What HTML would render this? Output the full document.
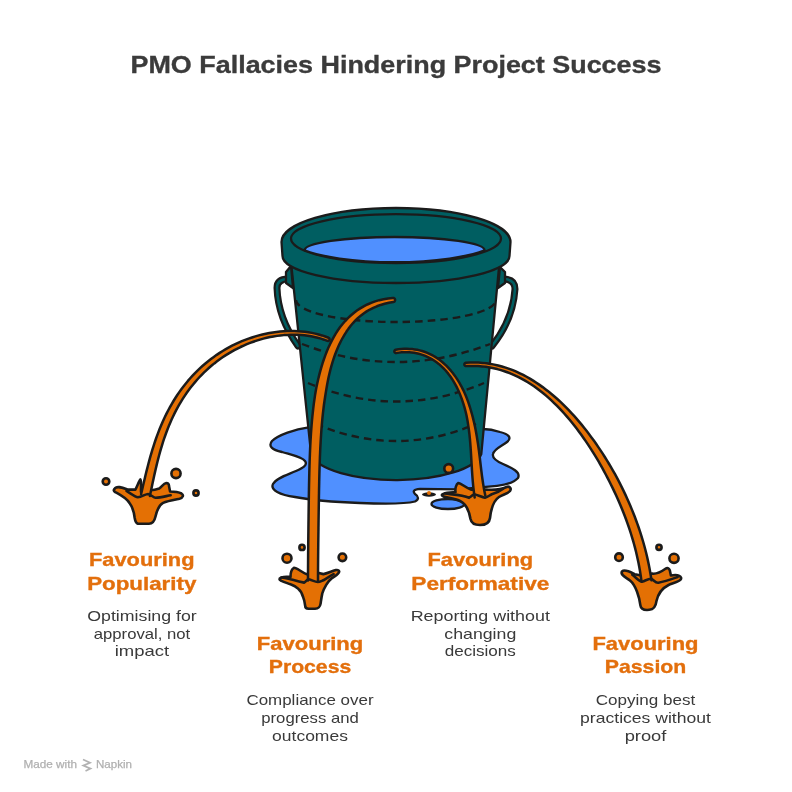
<!DOCTYPE html>
<html><head><meta charset="utf-8"><style>html,body{margin:0;padding:0;background:#fff;width:792px;height:792px;overflow:hidden}svg{display:block;will-change:transform}</style></head>
<body>
<svg width="792" height="792" viewBox="0 0 792 792">
<style>
.k{stroke:#1b1b1b;stroke-width:2.3;stroke-linejoin:round;stroke-linecap:round}
.o{fill:#E47004;stroke:#1b1b1b;stroke-width:2.6;stroke-linejoin:round}
.st{fill:#E47004;stroke:#1b1b1b;stroke-width:2.2;stroke-linejoin:round}
.ln{fill:none;stroke:#1b1b1b;stroke-width:2.6;stroke-linecap:round}
.t{font-family:"Liberation Sans",sans-serif}
</style>
<!-- puddle -->
<path class="k" fill="#5090FF" d="M 350,427 L 308.6,427.4 C 295,429 278,435 272,441 C 268,446 272,450 282,452 C 292,455 302,457 305,461 C 308,465 303,468 296,471 C 287,475 276,478 273,484 C 270,490 280,495 295,497 C 310,500 330,502 360,503 C 385,504 405,504 415,501.5 Q 421,498 415,494 Q 411,489.5 420,488.8 L 458,489.3 L 497,485.8 C 506,484.8 514,482.5 518,478 C 521,472 512,468 503,464 C 496,461 492,458 493,454 C 494,449 502,446 507,442 C 512,438 509,434 500,432 C 494,430 488,429 483,429 Z"/>
<ellipse class="k" fill="#5090FF" cx="448" cy="504" rx="16.5" ry="5"/>
<!-- handles -->
<path d="M 288,279 Q 277,279 277,288 Q 278,318 298,346" fill="none" stroke="#1b1b1b" stroke-width="7" stroke-linecap="round"/>
<path d="M 288,279 Q 277,279 277,288 Q 278,318 298,346" fill="none" stroke="#005E61" stroke-width="2.6" stroke-linecap="round"/>
<path d="M 503,279 Q 515,279 515,289 Q 513,320 492,346" fill="none" stroke="#1b1b1b" stroke-width="7" stroke-linecap="round"/>
<path d="M 503,279 Q 515,279 515,289 Q 513,320 492,346" fill="none" stroke="#005E61" stroke-width="2.6" stroke-linecap="round"/>
<!-- body -->
<path class="k" fill="#005E61" d="M 291,262 L 311.2,455 A 86,30 0 0 0 481.3,454 L 499.5,262 Z"/>
<!-- dashes -->
<g fill="none" stroke="#1b1b1b" stroke-width="2.4" stroke-dasharray="7.5,5">
<path d="M 296,300 A 100,22 0 0 0 496,300"/>
<path d="M 302,344 Q 396,380 490,344"/>
<path d="M 308,383 Q 396,420 484,383"/>
<path d="M 316,424 Q 396,458 476,424"/>
</g>
<!-- brackets -->
<path class="k" fill="#005E61" d="M 291,266 L 286,272 L 286,283 L 293,288 Z"/>
<path class="k" fill="#005E61" d="M 500,267 L 505,272 L 505,283 L 498,288 Z"/>
<!-- rim -->
<path class="k" fill="#005E61" d="M 281.5,242 A 114.5,34 0 0 1 510.5,242 L 509.5,256 A 113.5,27 0 0 1 282.5,256 Z"/>
<ellipse class="k" fill="#005E61" cx="396" cy="238.6" rx="105" ry="24.5"/>
<path class="k" fill="#5090FF" d="M 304.5,250.3 A 90.05,13.3 0 0 1 484.6,250.3 A 105,24.5 0 0 1 304.5,250.3 Z"/>
<!-- small drips -->
<circle class="o" cx="448.7" cy="468.5" r="4.4"/>
<ellipse cx="429" cy="494.5" rx="7" ry="2.2" fill="#1b1b1b"/>
<circle cx="429" cy="493" r="2" fill="#E47004"/>
<!-- streams -->
<g transform="translate(145.5,492)"><path class="o" d="M -31,-3 C -29,-7 -22,-4 -17.7,-2.4 L -10.1,-2.4 C -8.5,-5 -6.5,-11 -5.1,-12.5 C -4,-11 -4.5,-6 -4.5,0 L 5,-1.7 C 9,-2 12,-3 13.8,-3.6 C 16,-5 18.5,-8.5 20.2,-8.7 C 22,-9.5 23.5,-8 23.5,-6 L 24.6,-0.5 C 28,-0.5 33,0 36,1.5 C 38.5,3 37.5,6 34,6.8 C 28,8 22,9 17.6,10.9 C 13.5,13 11.5,18 10,24.5 C 9,29 7,31.7 3.5,31.7 L -7.6,31.7 C -10,31 -10.5,28 -10.8,26 C -11.5,20 -13,15 -16,11 C -19,6 -25,3 -30.3,0.1 C -32,-1 -32,-2 -31,-3 Z"/></g><path fill="#E47004" d="M328.48,337.75 L325.26,336.53 L321.96,335.43 L318.62,334.45 L315.23,333.60 L311.80,332.87 L308.34,332.26 L304.85,331.77 L301.34,331.40 L297.81,331.15 L294.26,331.01 L290.70,330.98 L287.14,331.07 L283.58,331.26 L280.01,331.55 L276.45,331.96 L272.90,332.46 L269.36,333.05 L265.84,333.74 L262.33,334.52 L258.84,335.40 L255.38,336.38 L251.94,337.45 L248.54,338.61 L245.17,339.86 L241.83,341.20 L238.54,342.62 L235.28,344.13 L232.06,345.72 L228.89,347.39 L225.77,349.14 L222.70,350.96 L219.68,352.86 L216.70,354.84 L213.79,356.89 L210.93,359.00 L208.13,361.19 L205.38,363.45 L202.70,365.76 L200.07,368.15 L197.51,370.59 L195.01,373.09 L192.57,375.66 L190.19,378.27 L187.88,380.94 L185.63,383.67 L183.45,386.44 L181.33,389.26 L179.28,392.13 L177.28,395.05 L175.36,398.01 L173.49,401.00 L171.69,404.04 L169.95,407.12 L168.27,410.23 L166.65,413.37 L165.09,416.55 L163.59,419.76 L162.14,422.99 L160.75,426.25 L159.41,429.54 L158.13,432.84 L156.89,436.17 L155.70,439.52 L154.56,442.88 L153.46,446.26 L152.40,449.65 L151.38,453.05 L150.40,456.46 L149.45,459.87 L148.53,463.30 L147.64,466.72 L146.77,470.15 L145.92,473.58 L145.09,477.00 L144.28,480.42 L143.48,483.84 L142.69,487.24 L141.90,490.64 L141.11,494.03 L149.89,495.97 L150.61,492.57 L151.32,489.15 L152.04,485.74 L152.76,482.33 L153.49,478.92 L154.23,475.51 L154.99,472.11 L155.77,468.72 L156.57,465.33 L157.40,461.95 L158.25,458.59 L159.14,455.24 L160.06,451.90 L161.01,448.57 L162.01,445.27 L163.04,441.98 L164.12,438.71 L165.25,435.46 L166.42,432.24 L167.64,429.03 L168.91,425.86 L170.24,422.71 L171.61,419.59 L173.05,416.50 L174.54,413.44 L176.08,410.42 L177.69,407.43 L179.35,404.47 L181.07,401.56 L182.86,398.68 L184.70,395.84 L186.61,393.05 L188.58,390.30 L190.61,387.59 L192.71,384.93 L194.87,382.33 L197.09,379.77 L199.37,377.26 L201.71,374.80 L204.12,372.41 L206.59,370.06 L209.11,367.78 L211.70,365.56 L214.34,363.40 L217.05,361.30 L219.80,359.26 L222.62,357.30 L225.48,355.40 L228.40,353.57 L231.37,351.82 L234.38,350.14 L237.45,348.53 L240.56,347.01 L243.71,345.56 L246.90,344.19 L250.13,342.91 L253.39,341.71 L256.68,340.60 L260.01,339.58 L263.36,338.65 L266.74,337.81 L270.14,337.07 L273.55,336.42 L276.98,335.88 L280.42,335.45 L283.86,335.12 L287.31,334.89 L290.76,334.76 L294.20,334.75 L297.63,334.84 L301.04,335.04 L304.44,335.36 L307.81,335.78 L311.15,336.33 L314.47,336.99 L317.74,337.77 L320.97,338.66 L324.16,339.69 L327.32,340.84 L327.96,340.95 L328.58,340.80 L329.11,340.42 L329.45,339.88 L329.55,339.24 L329.40,338.61 L329.02,338.09 Z"/><path class="ln" style="stroke-width:2.5;stroke-linejoin:round" d="M141.11,494.03 L141.90,490.64 L142.69,487.24 L143.48,483.84 L144.28,480.42 L145.09,477.00 L145.92,473.58 L146.77,470.15 L147.64,466.72 L148.53,463.30 L149.45,459.87 L150.40,456.46 L151.38,453.05 L152.40,449.65 L153.46,446.26 L154.56,442.88 L155.70,439.52 L156.89,436.17 L158.13,432.84 L159.41,429.54 L160.75,426.25 L162.14,422.99 L163.59,419.76 L165.09,416.55 L166.65,413.37 L168.27,410.23 L169.95,407.12 L171.69,404.04 L173.49,401.00 L175.36,398.01 L177.28,395.05 L179.28,392.13 L181.33,389.26 L183.45,386.44 L185.63,383.67 L187.88,380.94 L190.19,378.27 L192.57,375.66 L195.01,373.09 L197.51,370.59 L200.07,368.15 L202.70,365.76 L205.38,363.45 L208.13,361.19 L210.93,359.00 L213.79,356.89 L216.70,354.84 L219.68,352.86 L222.70,350.96 L225.77,349.14 L228.89,347.39 L232.06,345.72 L235.28,344.13 L238.54,342.62 L241.83,341.20 L245.17,339.86 L248.54,338.61 L251.94,337.45 L255.38,336.38 L258.84,335.40 L262.33,334.52 L265.84,333.74 L269.36,333.05 L272.90,332.46 L276.45,331.96 L280.01,331.55 L283.58,331.26 L287.14,331.07 L290.70,330.98 L294.26,331.01 L297.81,331.15 L301.34,331.40 L304.85,331.77 L308.34,332.26 L311.80,332.87 L315.23,333.60 L318.62,334.45 L321.96,335.43 L325.26,336.53 L328.48,337.75 L329.02,338.09 L329.40,338.61 L329.55,339.24 L329.45,339.88 L329.11,340.42 L328.58,340.80 L327.96,340.95 L327.32,340.84 L324.16,339.69 L320.97,338.66 L317.74,337.77 L314.47,336.99 L311.15,336.33 L307.81,335.78 L304.44,335.36 L301.04,335.04 L297.63,334.84 L294.20,334.75 L290.76,334.76 L287.31,334.89 L283.86,335.12 L280.42,335.45 L276.98,335.88 L273.55,336.42 L270.14,337.07 L266.74,337.81 L263.36,338.65 L260.01,339.58 L256.68,340.60 L253.39,341.71 L250.13,342.91 L246.90,344.19 L243.71,345.56 L240.56,347.01 L237.45,348.53 L234.38,350.14 L231.37,351.82 L228.40,353.57 L225.48,355.40 L222.62,357.30 L219.80,359.26 L217.05,361.30 L214.34,363.40 L211.70,365.56 L209.11,367.78 L206.59,370.06 L204.12,372.41 L201.71,374.80 L199.37,377.26 L197.09,379.77 L194.87,382.33 L192.71,384.93 L190.61,387.59 L188.58,390.30 L186.61,393.05 L184.70,395.84 L182.86,398.68 L181.07,401.56 L179.35,404.47 L177.69,407.43 L176.08,410.42 L174.54,413.44 L173.05,416.50 L171.61,419.59 L170.24,422.71 L168.91,425.86 L167.64,429.03 L166.42,432.24 L165.25,435.46 L164.12,438.71 L163.04,441.98 L162.01,445.27 L161.01,448.57 L160.06,451.90 L159.14,455.24 L158.25,458.59 L157.40,461.95 L156.57,465.33 L155.77,468.72 L154.99,472.11 L154.23,475.51 L153.49,478.92 L152.76,482.33 L152.04,485.74 L151.32,489.15 L150.61,492.57 L149.89,495.97"/><g transform="translate(145.5,492)"><path class="ln" d="M -19,-1.1 C -14,2 -10,5 -7.6,5.2 C -4,5 0,2 2.5,2 C 5,2.5 8,5.5 10.1,5.8 C 15,5.5 21,4 25.2,3.3"/></g>
<g transform="translate(313,578)"><path class="o" d="M -33.3,0.6 C -32,-2 -27,-1.5 -22.5,-1.1 C -22.5,-4 -21.5,-9 -19.1,-10.2 C -16.5,-10.5 -11,-5.5 -6.6,-3.9 L 5.9,-5 C 8,-4.5 9,-4 10.4,-3.9 C 14,-4.5 18,-6.5 22.9,-7.9 C 25,-8.5 27,-7 25.75,-5.3 C 24.5,-3 21,-1 18.4,0.6 C 15,3 11,10 9.3,15.4 C 8.5,19 8,23 7.6,25.6 C 7,29 6,30.5 2,30.75 L -4.4,30.75 C -7,30.5 -7.8,29 -7.8,27.9 C -8.5,23 -9,21 -10,18.8 C -11,15 -12,13 -14.6,10.9 C -17,8.5 -19,7.5 -22.5,6.3 C -26,5 -29,4 -31.6,2.9 C -33,2 -34,1.5 -33.3,0.6 Z"/></g><path fill="#E47004" d="M392.72,297.92 L388.09,298.42 L383.58,299.18 L379.26,300.17 L375.11,301.39 L371.14,302.83 L367.34,304.48 L363.71,306.33 L360.24,308.36 L356.92,310.57 L353.76,312.95 L350.76,315.50 L347.90,318.19 L345.18,321.03 L342.61,323.99 L340.17,327.08 L337.86,330.29 L335.72,333.63 L333.71,337.06 L331.81,340.58 L330.02,344.18 L328.34,347.85 L326.77,351.59 L325.29,355.40 L323.90,359.25 L322.60,363.16 L321.39,367.11 L320.25,371.10 L319.19,375.13 L318.20,379.19 L317.28,383.27 L316.42,387.37 L315.64,391.50 L314.97,395.64 L314.36,399.80 L313.79,403.96 L313.28,408.13 L312.81,412.29 L312.38,416.45 L311.98,420.61 L311.63,424.76 L311.30,428.90 L311.01,433.03 L310.75,437.14 L310.51,441.25 L310.29,445.33 L310.10,449.41 L309.92,453.46 L309.77,457.50 L309.63,461.52 L309.50,465.52 L309.39,469.51 L309.29,473.47 L309.19,477.42 L309.11,481.35 L309.03,485.27 L308.96,489.17 L308.89,493.06 L308.83,496.94 L308.78,500.81 L308.72,504.67 L308.67,508.52 L308.62,512.37 L308.57,516.22 L308.52,520.06 L308.47,523.92 L308.42,527.78 L308.38,531.65 L308.33,535.54 L308.29,539.45 L308.24,543.38 L308.20,547.33 L308.16,551.32 L308.12,555.34 L308.09,559.40 L308.06,563.51 L308.03,567.67 L308.02,571.88 L308.00,576.16 L308.00,580.49 L318.00,580.51 L318.01,576.18 L318.02,571.92 L318.05,567.72 L318.08,563.58 L318.11,559.48 L318.15,555.43 L318.19,551.42 L318.24,547.44 L318.28,543.49 L318.33,539.57 L318.38,535.66 L318.43,531.78 L318.48,527.91 L318.53,524.05 L318.58,520.20 L318.63,516.35 L318.69,512.50 L318.74,508.66 L318.80,504.81 L318.86,500.96 L318.92,497.10 L318.99,493.23 L319.05,489.35 L319.13,485.47 L319.21,481.57 L319.30,477.65 L319.39,473.73 L319.50,469.79 L319.62,465.83 L319.75,461.86 L319.89,457.88 L320.05,453.88 L320.23,449.87 L320.42,445.85 L320.64,441.81 L320.88,437.77 L321.14,433.72 L321.43,429.66 L321.76,425.59 L322.11,421.53 L322.50,417.46 L322.92,413.39 L323.39,409.33 L323.89,405.28 L324.45,401.23 L325.05,397.20 L325.69,393.19 L326.34,389.19 L327.03,385.21 L327.78,381.26 L328.59,377.34 L329.47,373.46 L330.42,369.62 L331.44,365.82 L332.54,362.08 L333.73,358.39 L334.99,354.77 L336.35,351.21 L337.80,347.72 L339.34,344.32 L340.99,341.00 L342.73,337.77 L344.59,334.63 L346.51,331.58 L348.56,328.62 L350.72,325.78 L353.02,323.05 L355.45,320.45 L358.03,317.97 L360.75,315.64 L363.63,313.44 L366.67,311.40 L369.89,309.53 L373.29,307.81 L376.87,306.28 L380.64,304.93 L384.63,303.77 L388.82,302.82 L393.29,302.08 L394.06,301.82 L394.68,301.27 L395.04,300.54 L395.08,299.72 L394.82,298.94 L394.27,298.33 L393.54,297.97 Z"/><path class="ln" style="stroke-width:2.5;stroke-linejoin:round" d="M308.00,580.49 L308.00,576.16 L308.02,571.88 L308.03,567.67 L308.06,563.51 L308.09,559.40 L308.12,555.34 L308.16,551.32 L308.20,547.33 L308.24,543.38 L308.29,539.45 L308.33,535.54 L308.38,531.65 L308.42,527.78 L308.47,523.92 L308.52,520.06 L308.57,516.22 L308.62,512.37 L308.67,508.52 L308.72,504.67 L308.78,500.81 L308.83,496.94 L308.89,493.06 L308.96,489.17 L309.03,485.27 L309.11,481.35 L309.19,477.42 L309.29,473.47 L309.39,469.51 L309.50,465.52 L309.63,461.52 L309.77,457.50 L309.92,453.46 L310.10,449.41 L310.29,445.33 L310.51,441.25 L310.75,437.14 L311.01,433.03 L311.30,428.90 L311.63,424.76 L311.98,420.61 L312.38,416.45 L312.81,412.29 L313.28,408.13 L313.79,403.96 L314.36,399.80 L314.97,395.64 L315.64,391.50 L316.42,387.37 L317.28,383.27 L318.20,379.19 L319.19,375.13 L320.25,371.10 L321.39,367.11 L322.60,363.16 L323.90,359.25 L325.29,355.40 L326.77,351.59 L328.34,347.85 L330.02,344.18 L331.81,340.58 L333.71,337.06 L335.72,333.63 L337.86,330.29 L340.17,327.08 L342.61,323.99 L345.18,321.03 L347.90,318.19 L350.76,315.50 L353.76,312.95 L356.92,310.57 L360.24,308.36 L363.71,306.33 L367.34,304.48 L371.14,302.83 L375.11,301.39 L379.26,300.17 L383.58,299.18 L388.09,298.42 L392.72,297.92 L393.54,297.97 L394.27,298.33 L394.82,298.94 L395.08,299.72 L395.04,300.54 L394.68,301.27 L394.06,301.82 L393.29,302.08 L388.82,302.82 L384.63,303.77 L380.64,304.93 L376.87,306.28 L373.29,307.81 L369.89,309.53 L366.67,311.40 L363.63,313.44 L360.75,315.64 L358.03,317.97 L355.45,320.45 L353.02,323.05 L350.72,325.78 L348.56,328.62 L346.51,331.58 L344.59,334.63 L342.73,337.77 L340.99,341.00 L339.34,344.32 L337.80,347.72 L336.35,351.21 L334.99,354.77 L333.73,358.39 L332.54,362.08 L331.44,365.82 L330.42,369.62 L329.47,373.46 L328.59,377.34 L327.78,381.26 L327.03,385.21 L326.34,389.19 L325.69,393.19 L325.05,397.20 L324.45,401.23 L323.89,405.28 L323.39,409.33 L322.92,413.39 L322.50,417.46 L322.11,421.53 L321.76,425.59 L321.43,429.66 L321.14,433.72 L320.88,437.77 L320.64,441.81 L320.42,445.85 L320.23,449.87 L320.05,453.88 L319.89,457.88 L319.75,461.86 L319.62,465.83 L319.50,469.79 L319.39,473.73 L319.30,477.65 L319.21,481.57 L319.13,485.47 L319.05,489.35 L318.99,493.23 L318.92,497.10 L318.86,500.96 L318.80,504.81 L318.74,508.66 L318.69,512.50 L318.63,516.35 L318.58,520.20 L318.53,524.05 L318.48,527.91 L318.43,531.78 L318.38,535.66 L318.33,539.57 L318.28,543.49 L318.24,547.44 L318.19,551.42 L318.15,555.43 L318.11,559.48 L318.08,563.58 L318.05,567.72 L318.02,571.92 L318.01,576.18 L318.00,580.51"/><g transform="translate(313,578)"><path class="ln" d="M -31.6,-0.5 C -27,0 -24,1 -20.3,1.8 C -16,3 -12,4 -8.9,4.6 C -7,3.5 -6,1.5 -4.4,1.2 C -1,2 2,4 4.7,4 C 7,4 8.5,3 10.4,2.3 C 14,0 17,-2 20.6,-3.9"/></g>
<g transform="translate(478,495)"><path class="o" d="M -35.6,-0.5 C -33,-3 -28,-2 -22.5,-3 C -23,-6 -22,-11 -19.7,-12 C -17,-12 -12,-7 -6.6,-5.2 L 8,-5.5 C 14,-5 22,-5 28.6,-8 C 31,-9 34,-7 32,-4 C 30,-1.5 25,-0.5 21,2 C 15,6 13,14 12,23 C 11.5,27 9,30 2,30 C -3,30 -6.5,29 -7.5,24 C -9,15 -12,9 -18,6 C -24,3 -31,3 -34.5,1.5 C -36,1 -36.5,0 -35.6,-0.5 Z"/></g><path fill="#E47004" d="M396.24,353.03 L399.01,352.63 L401.68,352.36 L404.29,352.22 L406.85,352.20 L409.35,352.30 L411.80,352.51 L414.19,352.83 L416.53,353.25 L418.81,353.78 L421.04,354.40 L423.21,355.12 L425.33,355.93 L427.40,356.83 L429.41,357.81 L431.37,358.88 L433.27,360.02 L435.12,361.24 L436.92,362.53 L438.67,363.90 L440.37,365.32 L442.01,366.82 L443.61,368.37 L445.15,369.99 L446.63,371.67 L448.05,373.41 L449.42,375.21 L450.74,377.05 L452.00,378.93 L453.22,380.86 L454.39,382.83 L455.51,384.84 L456.59,386.88 L457.61,388.96 L458.59,391.07 L459.53,393.21 L460.42,395.37 L461.27,397.57 L462.08,399.78 L462.84,402.02 L463.57,404.28 L464.26,406.56 L464.90,408.85 L465.51,411.17 L466.07,413.50 L466.57,415.84 L467.04,418.20 L467.47,420.57 L467.88,422.94 L468.25,425.33 L468.60,427.71 L468.92,430.11 L469.21,432.50 L469.49,434.90 L469.74,437.31 L469.97,439.71 L470.18,442.12 L470.37,444.52 L470.55,446.93 L470.72,449.34 L470.88,451.75 L471.02,454.15 L471.16,456.56 L471.30,458.96 L471.44,461.37 L471.58,463.77 L471.72,466.17 L471.86,468.57 L472.01,470.98 L472.17,473.38 L472.34,475.78 L472.52,478.18 L472.71,480.59 L472.92,482.99 L473.15,485.40 L473.41,487.81 L473.68,490.23 L473.99,492.64 L474.33,495.07 L474.69,497.46 L485.32,495.54 L484.83,493.24 L484.38,490.97 L483.96,488.69 L483.56,486.40 L483.18,484.11 L482.83,481.80 L482.49,479.48 L482.16,477.16 L481.85,474.82 L481.55,472.47 L481.26,470.12 L480.97,467.75 L480.69,465.38 L480.41,463.00 L480.14,460.60 L479.85,458.20 L479.56,455.80 L479.25,453.38 L478.94,450.96 L478.62,448.54 L478.29,446.11 L477.94,443.68 L477.57,441.24 L477.19,438.80 L476.79,436.36 L476.37,433.92 L475.93,431.48 L475.46,429.04 L474.96,426.60 L474.44,424.17 L473.89,421.75 L473.31,419.33 L472.70,416.92 L472.05,414.52 L471.37,412.13 L470.68,409.75 L469.97,407.38 L469.21,405.02 L468.42,402.68 L467.59,400.36 L466.71,398.06 L465.80,395.78 L464.84,393.52 L463.83,391.29 L462.78,389.09 L461.67,386.92 L460.53,384.79 L459.33,382.68 L458.08,380.62 L456.79,378.59 L455.44,376.61 L454.04,374.67 L452.59,372.78 L451.08,370.94 L449.52,369.15 L447.92,367.41 L446.27,365.71 L444.57,364.08 L442.81,362.51 L441.00,361.00 L439.12,359.57 L437.19,358.21 L435.20,356.92 L433.15,355.72 L431.05,354.60 L428.89,353.57 L426.67,352.62 L424.39,351.78 L422.05,351.03 L419.66,350.38 L417.22,349.84 L414.72,349.40 L412.16,349.09 L409.55,348.89 L406.89,348.81 L404.17,348.85 L401.40,349.02 L398.59,349.33 L395.75,349.77 L395.15,349.99 L394.67,350.42 L394.40,351.00 L394.37,351.65 L394.58,352.25 L395.02,352.73 L395.60,353.00 Z"/><path class="ln" style="stroke-width:2.5;stroke-linejoin:round" d="M474.69,497.46 L474.33,495.07 L473.99,492.64 L473.68,490.23 L473.41,487.81 L473.15,485.40 L472.92,482.99 L472.71,480.59 L472.52,478.18 L472.34,475.78 L472.17,473.38 L472.01,470.98 L471.86,468.57 L471.72,466.17 L471.58,463.77 L471.44,461.37 L471.30,458.96 L471.16,456.56 L471.02,454.15 L470.88,451.75 L470.72,449.34 L470.55,446.93 L470.37,444.52 L470.18,442.12 L469.97,439.71 L469.74,437.31 L469.49,434.90 L469.21,432.50 L468.92,430.11 L468.60,427.71 L468.25,425.33 L467.88,422.94 L467.47,420.57 L467.04,418.20 L466.57,415.84 L466.07,413.50 L465.51,411.17 L464.90,408.85 L464.26,406.56 L463.57,404.28 L462.84,402.02 L462.08,399.78 L461.27,397.57 L460.42,395.37 L459.53,393.21 L458.59,391.07 L457.61,388.96 L456.59,386.88 L455.51,384.84 L454.39,382.83 L453.22,380.86 L452.00,378.93 L450.74,377.05 L449.42,375.21 L448.05,373.41 L446.63,371.67 L445.15,369.99 L443.61,368.37 L442.01,366.82 L440.37,365.32 L438.67,363.90 L436.92,362.53 L435.12,361.24 L433.27,360.02 L431.37,358.88 L429.41,357.81 L427.40,356.83 L425.33,355.93 L423.21,355.12 L421.04,354.40 L418.81,353.78 L416.53,353.25 L414.19,352.83 L411.80,352.51 L409.35,352.30 L406.85,352.20 L404.29,352.22 L401.68,352.36 L399.01,352.63 L396.24,353.03 L395.60,353.00 L395.02,352.73 L394.58,352.25 L394.37,351.65 L394.40,351.00 L394.67,350.42 L395.15,349.99 L395.75,349.77 L398.59,349.33 L401.40,349.02 L404.17,348.85 L406.89,348.81 L409.55,348.89 L412.16,349.09 L414.72,349.40 L417.22,349.84 L419.66,350.38 L422.05,351.03 L424.39,351.78 L426.67,352.62 L428.89,353.57 L431.05,354.60 L433.15,355.72 L435.20,356.92 L437.19,358.21 L439.12,359.57 L441.00,361.00 L442.81,362.51 L444.57,364.08 L446.27,365.71 L447.92,367.41 L449.52,369.15 L451.08,370.94 L452.59,372.78 L454.04,374.67 L455.44,376.61 L456.79,378.59 L458.08,380.62 L459.33,382.68 L460.53,384.79 L461.67,386.92 L462.78,389.09 L463.83,391.29 L464.84,393.52 L465.80,395.78 L466.71,398.06 L467.59,400.36 L468.42,402.68 L469.21,405.02 L469.97,407.38 L470.68,409.75 L471.37,412.13 L472.05,414.52 L472.70,416.92 L473.31,419.33 L473.89,421.75 L474.44,424.17 L474.96,426.60 L475.46,429.04 L475.93,431.48 L476.37,433.92 L476.79,436.36 L477.19,438.80 L477.57,441.24 L477.94,443.68 L478.29,446.11 L478.62,448.54 L478.94,450.96 L479.25,453.38 L479.56,455.80 L479.85,458.20 L480.14,460.60 L480.41,463.00 L480.69,465.38 L480.97,467.75 L481.26,470.12 L481.55,472.47 L481.85,474.82 L482.16,477.16 L482.49,479.48 L482.83,481.80 L483.18,484.11 L483.56,486.40 L483.96,488.69 L484.38,490.97 L484.83,493.24 L485.32,495.54"/><g transform="translate(478,495)"><path class="ln" d="M -33,-1.5 C -25,-0.5 -15,0 -8.9,2.7 C -6,1 -5,-0.5 -3.8,-0.7 C 0,0 4,2.5 7,2.7 C 10,2 12,0 13.8,-0.7 C 18,-2 22,-4 25.2,-6.4"/></g>
<g transform="translate(645.9,579.3)"><path class="o" d="M -23.9,-7.9 C -21,-10.5 -15,-7 -11.3,-5.1 L -5.7,-4 L 6.3,-5.7 C 12,-5 16,-8 19.5,-10.5 Q 22.5,-12.5 23.9,-9 L 25,-3.8 C 29,-4.5 34,-4.5 35.2,-1.5 C 36,1.5 28,3.5 22.7,5.7 C 16,9 12,15 10.5,22 C 10,26 9,30 3.4,30.5 C -1,31 -5,30 -5.5,26 C -6.5,18 -10,6 -15.9,1.2 C -19,-1.5 -26,-4 -23.9,-7.9 Z"/></g><path fill="#E47004" d="M466.07,366.05 L470.23,365.89 L474.29,365.90 L478.28,366.06 L482.20,366.38 L486.05,366.84 L489.84,367.45 L493.58,368.20 L497.25,369.08 L500.86,370.08 L504.41,371.21 L507.91,372.46 L511.35,373.83 L514.74,375.31 L518.07,376.89 L521.35,378.57 L524.59,380.36 L527.77,382.24 L530.90,384.21 L533.99,386.27 L537.02,388.42 L539.99,390.68 L542.91,393.01 L545.78,395.42 L548.61,397.89 L551.39,400.43 L554.13,403.03 L556.83,405.70 L559.48,408.42 L562.08,411.19 L564.65,414.02 L567.17,416.90 L569.65,419.82 L572.09,422.78 L574.49,425.79 L576.85,428.84 L579.17,431.92 L581.45,435.04 L583.69,438.19 L585.89,441.37 L588.06,444.58 L590.18,447.81 L592.26,451.07 L594.31,454.36 L596.31,457.66 L598.28,460.99 L600.21,464.34 L602.10,467.70 L603.95,471.08 L605.77,474.47 L607.54,477.88 L609.27,481.31 L611.00,484.73 L612.69,488.16 L614.34,491.60 L615.95,495.06 L617.52,498.52 L619.06,502.00 L620.55,505.49 L622.00,508.98 L623.40,512.49 L624.77,516.01 L626.10,519.54 L627.38,523.07 L628.61,526.62 L629.81,530.18 L630.96,533.75 L632.06,537.34 L633.12,540.93 L634.13,544.54 L635.10,548.17 L636.01,551.81 L636.88,555.47 L637.70,559.14 L638.47,562.84 L639.19,566.56 L639.86,570.29 L640.48,574.06 L641.04,577.84 L641.55,581.69 L651.45,580.30 L650.88,576.39 L650.24,572.46 L649.54,568.57 L648.80,564.70 L648.00,560.86 L647.14,557.04 L646.24,553.24 L645.29,549.47 L644.29,545.72 L643.24,541.99 L642.14,538.27 L641.00,534.58 L639.80,530.90 L638.57,527.23 L637.29,523.59 L635.96,519.95 L634.59,516.33 L633.18,512.73 L631.73,509.13 L630.23,505.55 L628.69,501.99 L627.12,498.43 L625.49,494.89 L623.83,491.36 L622.13,487.85 L620.39,484.35 L618.61,480.86 L616.78,477.39 L614.89,473.95 L612.95,470.52 L610.98,467.12 L608.97,463.73 L606.92,460.36 L604.83,457.01 L602.71,453.68 L600.54,450.37 L598.34,447.09 L596.09,443.83 L593.81,440.60 L591.49,437.40 L589.13,434.23 L586.73,431.09 L584.29,427.99 L581.81,424.92 L579.29,421.88 L576.73,418.89 L574.13,415.94 L571.48,413.04 L568.80,410.19 L566.07,407.38 L563.30,404.63 L560.49,401.93 L557.63,399.30 L554.73,396.72 L551.78,394.21 L548.79,391.77 L545.76,389.40 L542.67,387.11 L539.54,384.90 L536.38,382.74 L533.17,380.66 L529.91,378.67 L526.61,376.77 L523.24,374.97 L519.83,373.28 L516.36,371.68 L512.83,370.20 L509.25,368.83 L505.61,367.59 L501.91,366.46 L498.15,365.47 L494.34,364.61 L490.46,363.89 L486.52,363.31 L482.53,362.88 L478.46,362.60 L474.34,362.49 L470.15,362.54 L465.92,362.75 L465.30,362.91 L464.78,363.29 L464.45,363.84 L464.35,364.47 L464.50,365.10 L464.88,365.62 L465.44,365.95 Z"/><path class="ln" style="stroke-width:2.5;stroke-linejoin:round" d="M641.55,581.69 L641.04,577.84 L640.48,574.06 L639.86,570.29 L639.19,566.56 L638.47,562.84 L637.70,559.14 L636.88,555.47 L636.01,551.81 L635.10,548.17 L634.13,544.54 L633.12,540.93 L632.06,537.34 L630.96,533.75 L629.81,530.18 L628.61,526.62 L627.38,523.07 L626.10,519.54 L624.77,516.01 L623.40,512.49 L622.00,508.98 L620.55,505.49 L619.06,502.00 L617.52,498.52 L615.95,495.06 L614.34,491.60 L612.69,488.16 L611.00,484.73 L609.27,481.31 L607.54,477.88 L605.77,474.47 L603.95,471.08 L602.10,467.70 L600.21,464.34 L598.28,460.99 L596.31,457.66 L594.31,454.36 L592.26,451.07 L590.18,447.81 L588.06,444.58 L585.89,441.37 L583.69,438.19 L581.45,435.04 L579.17,431.92 L576.85,428.84 L574.49,425.79 L572.09,422.78 L569.65,419.82 L567.17,416.90 L564.65,414.02 L562.08,411.19 L559.48,408.42 L556.83,405.70 L554.13,403.03 L551.39,400.43 L548.61,397.89 L545.78,395.42 L542.91,393.01 L539.99,390.68 L537.02,388.42 L533.99,386.27 L530.90,384.21 L527.77,382.24 L524.59,380.36 L521.35,378.57 L518.07,376.89 L514.74,375.31 L511.35,373.83 L507.91,372.46 L504.41,371.21 L500.86,370.08 L497.25,369.08 L493.58,368.20 L489.84,367.45 L486.05,366.84 L482.20,366.38 L478.28,366.06 L474.29,365.90 L470.23,365.89 L466.07,366.05 L465.44,365.95 L464.88,365.62 L464.50,365.10 L464.35,364.47 L464.45,363.84 L464.78,363.29 L465.30,362.91 L465.92,362.75 L470.15,362.54 L474.34,362.49 L478.46,362.60 L482.53,362.88 L486.52,363.31 L490.46,363.89 L494.34,364.61 L498.15,365.47 L501.91,366.46 L505.61,367.59 L509.25,368.83 L512.83,370.20 L516.36,371.68 L519.83,373.28 L523.24,374.97 L526.61,376.77 L529.91,378.67 L533.17,380.66 L536.38,382.74 L539.54,384.90 L542.67,387.11 L545.76,389.40 L548.79,391.77 L551.78,394.21 L554.73,396.72 L557.63,399.30 L560.49,401.93 L563.30,404.63 L566.07,407.38 L568.80,410.19 L571.48,413.04 L574.13,415.94 L576.73,418.89 L579.29,421.88 L581.81,424.92 L584.29,427.99 L586.73,431.09 L589.13,434.23 L591.49,437.40 L593.81,440.60 L596.09,443.83 L598.34,447.09 L600.54,450.37 L602.71,453.68 L604.83,457.01 L606.92,460.36 L608.97,463.73 L610.98,467.12 L612.95,470.52 L614.89,473.95 L616.78,477.39 L618.61,480.86 L620.39,484.35 L622.13,487.85 L623.83,491.36 L625.49,494.89 L627.12,498.43 L628.69,501.99 L630.23,505.55 L631.73,509.13 L633.18,512.73 L634.59,516.33 L635.96,519.95 L637.29,523.59 L638.57,527.23 L639.80,530.90 L641.00,534.58 L642.14,538.27 L643.24,541.99 L644.29,545.72 L645.29,549.47 L646.24,553.24 L647.14,557.04 L648.00,560.86 L648.80,564.70 L649.54,568.57 L650.24,572.46 L650.88,576.39 L651.45,580.30"/><g transform="translate(645.9,579.3)"><path class="ln" d="M -13.6,-4.5 C -9,-1 -6,3 -3.4,2.3 C 0,1 3,-1 5.7,-0.5 C 8,1 10,4 12.5,3.4 C 20,2 28,-1 31.8,-2.3"/></g>
<!-- droplets -->
<circle class="o" cx="106" cy="481.5" r="3.3"/><circle class="o" cx="176" cy="473.5" r="4.6"/><circle class="o" cx="196" cy="493" r="2.6"/>
<circle class="o" cx="287" cy="558.2" r="4.5"/><circle class="o" cx="302" cy="547.4" r="2.6"/><circle class="o" cx="342.4" cy="557.3" r="3.8"/>
<circle class="o" cx="619" cy="557.2" r="3.8"/><circle class="o" cx="659" cy="547.3" r="2.6"/><circle class="o" cx="674" cy="558.3" r="4.6"/>
<!-- text -->
<text class="t" x="396" y="72.5" text-anchor="middle" font-weight="bold" font-size="24.5" fill="#3b3b3b" stroke="#3b3b3b" stroke-width="0.35" textLength="531" lengthAdjust="spacingAndGlyphs">PMO Fallacies Hindering Project Success</text>
<text class="t" x="141.75" y="566" text-anchor="middle" font-weight="bold" font-size="19" fill="#E36F0C" stroke="#E36F0C" stroke-width="0.35" textLength="105.5" lengthAdjust="spacingAndGlyphs">Favouring</text><text class="t" x="141.75" y="589.5" text-anchor="middle" font-weight="bold" font-size="19" fill="#E36F0C" stroke="#E36F0C" stroke-width="0.35" textLength="109.2" lengthAdjust="spacingAndGlyphs">Popularity</text><text class="t" x="142" y="620.8" text-anchor="middle" font-size="14.5" fill="#3a3a3a" textLength="109.5" lengthAdjust="spacingAndGlyphs">Optimising for</text><text class="t" x="142" y="638.6" text-anchor="middle" font-size="14.5" fill="#3a3a3a" textLength="96.5" lengthAdjust="spacingAndGlyphs">approval, not</text><text class="t" x="142" y="656.4" text-anchor="middle" font-size="14.5" fill="#3a3a3a" textLength="54.5" lengthAdjust="spacingAndGlyphs">impact</text><text class="t" x="310" y="649.7" text-anchor="middle" font-weight="bold" font-size="19" fill="#E36F0C" stroke="#E36F0C" stroke-width="0.35" textLength="106.5" lengthAdjust="spacingAndGlyphs">Favouring</text><text class="t" x="310" y="673.2" text-anchor="middle" font-weight="bold" font-size="19" fill="#E36F0C" stroke="#E36F0C" stroke-width="0.35" textLength="82.5" lengthAdjust="spacingAndGlyphs">Process</text><text class="t" x="310" y="705.4" text-anchor="middle" font-size="14.5" fill="#3a3a3a" textLength="127.1" lengthAdjust="spacingAndGlyphs">Compliance over</text><text class="t" x="310" y="723.2" text-anchor="middle" font-size="14.5" fill="#3a3a3a" textLength="97.5" lengthAdjust="spacingAndGlyphs">progress and</text><text class="t" x="310" y="741.0" text-anchor="middle" font-size="14.5" fill="#3a3a3a" textLength="75.8" lengthAdjust="spacingAndGlyphs">outcomes</text><text class="t" x="480.3" y="566" text-anchor="middle" font-weight="bold" font-size="19" fill="#E36F0C" stroke="#E36F0C" stroke-width="0.35" textLength="105.7" lengthAdjust="spacingAndGlyphs">Favouring</text><text class="t" x="480.3" y="589.5" text-anchor="middle" font-weight="bold" font-size="19" fill="#E36F0C" stroke="#E36F0C" stroke-width="0.35" textLength="137.9" lengthAdjust="spacingAndGlyphs">Performative</text><text class="t" x="480.3" y="620.8" text-anchor="middle" font-size="14.5" fill="#3a3a3a" textLength="139.2" lengthAdjust="spacingAndGlyphs">Reporting without</text><text class="t" x="480.3" y="638.6" text-anchor="middle" font-size="14.5" fill="#3a3a3a" textLength="71.9" lengthAdjust="spacingAndGlyphs">changing</text><text class="t" x="480.3" y="656.4" text-anchor="middle" font-size="14.5" fill="#3a3a3a" textLength="71.2" lengthAdjust="spacingAndGlyphs">decisions</text><text class="t" x="645.5" y="649.7" text-anchor="middle" font-weight="bold" font-size="19" fill="#E36F0C" stroke="#E36F0C" stroke-width="0.35" textLength="106.1" lengthAdjust="spacingAndGlyphs">Favouring</text><text class="t" x="645.5" y="673.2" text-anchor="middle" font-weight="bold" font-size="19" fill="#E36F0C" stroke="#E36F0C" stroke-width="0.35" textLength="81.5" lengthAdjust="spacingAndGlyphs">Passion</text><text class="t" x="645.5" y="705.4" text-anchor="middle" font-size="14.5" fill="#3a3a3a" textLength="99.5" lengthAdjust="spacingAndGlyphs">Copying best</text><text class="t" x="645.5" y="723.2" text-anchor="middle" font-size="14.5" fill="#3a3a3a" textLength="130.8" lengthAdjust="spacingAndGlyphs">practices without</text><text class="t" x="645.5" y="741.0" text-anchor="middle" font-size="14.5" fill="#3a3a3a" textLength="41.7" lengthAdjust="spacingAndGlyphs">proof</text><text class="t" x="23.5" y="768.3" font-size="11" fill="#b0b0b0" stroke="#b0b0b0" stroke-width="0.25" textLength="53.5" lengthAdjust="spacingAndGlyphs">Made with</text>
<path d="M83,759.5 L90,762.8 L83.3,765.6 L90.5,768.6 L85.5,771" fill="none" stroke="#b2b2b2" stroke-width="1.7" stroke-linejoin="miter"/>
<text class="t" x="96" y="768.3" font-size="11" fill="#b0b0b0" stroke="#b0b0b0" stroke-width="0.25" textLength="36" lengthAdjust="spacingAndGlyphs">Napkin</text>
</svg></body></html>
